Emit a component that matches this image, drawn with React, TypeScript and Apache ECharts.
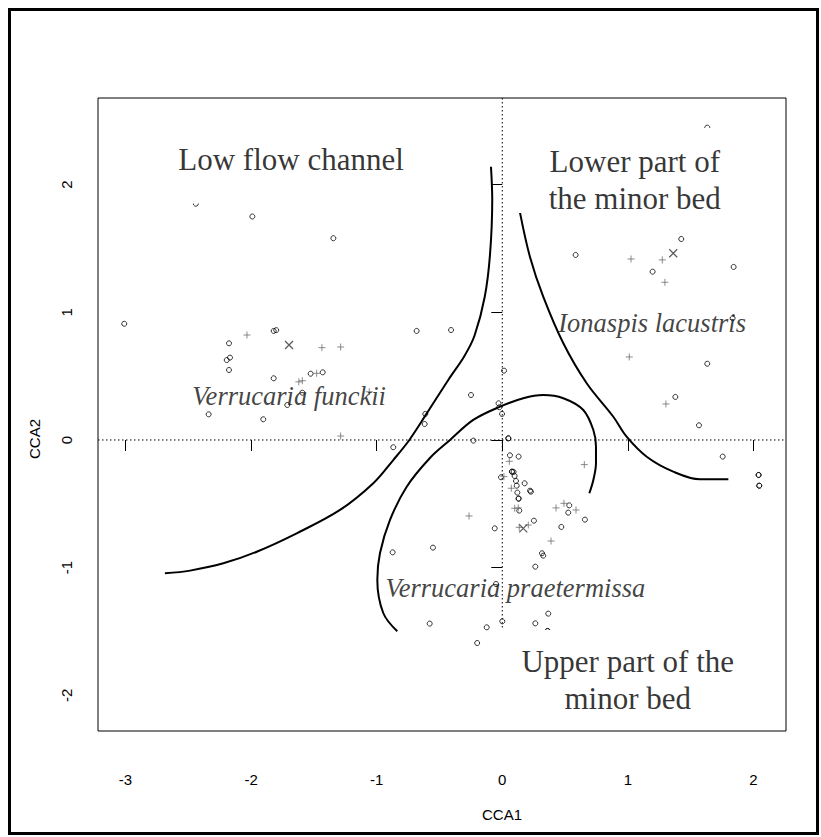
import React, { useEffect, useRef } from "react";
import * as echarts from "echarts";

// ---- axis ticks ----
const xTicks = [-3, -2, -1, 0, 1, 2];
const yTicks = [-2, -1, 0, 1, 2];

// ---- site scores (open circles) ----
const sites: number[][] = [
  [-2.44, 1.85], [-1.99, 1.75], [-1.345, 1.58], [-3.01, 0.91], [-2.176, 0.757],
  [-1.82, 0.854], [-1.8, 0.86], [-2.194, 0.626], [-2.168, 0.645], [-2.176, 0.548],
  [-1.82, 0.483], [-1.526, 0.519], [-1.43, 0.53], [-1.592, 0.37], [-1.712, 0.274],
  [-2.338, 0.201], [-1.903, 0.162], [-0.682, 0.854], [-0.408, 0.861], [0.014, 0.543],
  [-0.249, 0.352], [-0.03, 0.287], [-0.024, 0.256], [-0.002, 0.204], [-0.613, 0.204],
  [-0.618, 0.125], [-0.23, -0.005], [0.048, 0.013], [0.048, 0.013], [-0.868, -0.057],
  [-0.01, -0.292], [-0.06, -0.692], [-0.552, -0.843], [-0.873, -0.88], [-0.05, -1.128],
  [-0.578, -1.438], [-0.124, -1.467], [0.0, -1.42], [-0.2, -1.59], [0.061, -0.12],
  [0.13, -0.13], [0.077, -0.248], [0.077, -0.248], [0.09, -0.25], [0.098, -0.282],
  [0.109, -0.321], [0.115, -0.358], [0.178, -0.339], [0.12, -0.412], [0.13, -0.459],
  [0.13, -0.459], [0.221, -0.397], [0.228, -0.405], [0.135, -0.553], [0.533, -0.512],
  [0.525, -0.569], [0.658, -0.624], [0.252, -0.632], [0.47, -0.681], [0.316, -0.887],
  [0.326, -0.906], [0.263, -0.992], [0.366, -1.36], [0.263, -1.436], [0.361, -1.496],
  [0.361, -1.496], [1.566, 0.115], [1.755, -0.13], [2.041, -0.274], [2.041, -0.274],
  [2.046, -0.358], [2.046, -0.358], [1.632, 2.446], [1.425, 1.574], [0.584, 1.449],
  [1.197, 1.318], [1.842, 1.355], [1.834, 0.953], [1.632, 0.597], [1.378, 0.337],
];

// ---- species scores (grey crosses) ----
const species: number[][] = [
  [-2.033, 0.822], [-1.436, 0.723], [-1.287, 0.728], [-1.478, 0.522], [-1.592, 0.464],
  [-1.62, 0.455], [-1.287, 0.031], [-1.059, 0.378], [-0.265, -0.595], [0.056, -0.167],
  [0.013, -0.287], [0.072, -0.378], [0.099, -0.535], [0.127, -0.532], [0.428, -0.532],
  [0.491, -0.496], [0.587, -0.548], [0.653, -0.193], [0.135, -0.684], [0.207, -0.666],
  [0.388, -0.791], [1.025, 1.417], [1.274, 1.41], [1.295, 1.235], [1.011, 0.65],
  [1.303, 0.282],
];

// ---- group centroids (x) ----
const centroids: number[][] = [
  [-1.698, 0.744], [1.361, 1.462], [0.167, -0.692],
];

// ---- hand-drawn group boundaries ----
const boundaryLow: number[][] = [
  [-0.09, 2.14], [-0.08, 1.88], [-0.098, 1.45], [-0.14, 1.12], [-0.22, 0.82],
  [-0.3, 0.66], [-0.43, 0.47], [-0.6, 0.21], [-0.74, 0.0], [-0.868, -0.157],
  [-1.027, -0.339], [-1.292, -0.548], [-1.637, -0.731], [-1.955, -0.875],
  [-2.221, -0.966], [-2.486, -1.023], [-2.686, -1.044],
];
const boundaryLower: number[][] = [
  [0.141, 1.78], [0.22, 1.435], [0.326, 1.122], [0.486, 0.757], [0.672, 0.444],
  [0.884, 0.182], [0.99, 0.026], [1.15, -0.131], [1.361, -0.248], [1.574, -0.308],
  [1.8, -0.308],
];
const boundaryUpper: number[][] = [
  [-0.836, -1.498], [-0.947, -1.357], [-0.995, -1.096], [-0.974, -0.887],
  [-0.894, -0.626], [-0.761, -0.366], [-0.576, -0.141], [-0.416, 0.0],
  [-0.231, 0.157], [-0.018, 0.261], [0.167, 0.327], [0.326, 0.352], [0.486, 0.327],
  [0.645, 0.235], [0.725, 0.078], [0.746, -0.052], [0.746, -0.182], [0.725, -0.313],
  [0.693, -0.417],
];

// ---- annotations ----
const regionNames = ["Low flow channel", "Lower part of\nthe minor bed", "Upper part of the\nminor bed"];
const regionAt: number[][] = [[-1.682, 2.193], [1.055, 2.039], [0.999, -1.88]];
const speciesNames = ["Verrucaria funckii", "Ionaspis lacustris", "Verrucaria praetermissa"];
const speciesAt: number[][] = [[-1.697, 0.345], [1.193, 0.916], [0.104, -1.157]];

const X_MIN = -3.219, X_MAX = 2.259, Y_MIN = -2.279, Y_MAX = 2.678;

const serif = "'Liberation Serif', 'Times New Roman', serif";
const sans = "'Liberation Sans', Arial, Helvetica, sans-serif";

const frame = {
  id: "frame", type: "rect", silent: true, z: 100,
  shape: { x: 9.5, y: 9.5, width: 808, height: 824 },
  style: { fill: "none", stroke: "#000", lineWidth: 3 },
};

function buildOption() {
  const dotted = { color: "#000", width: 1, type: [1.5, 2.5] };
  return {
    animation: false,
    grid: {
      left: 98, top: 98, right: 35, bottom: 106,
      show: true, borderColor: "#000", borderWidth: 1, backgroundColor: "transparent",
    },
    xAxis: {
      type: "value", min: X_MIN, max: X_MAX,
      axisLine: { show: false }, splitLine: { show: false },
      axisTick: { show: true, length: 11, customValues: xTicks, lineStyle: { color: "#000", width: 1 } },
      axisLabel: { customValues: xTicks, margin: 41, fontSize: 15, color: "#000", fontFamily: sans },
      name: "CCA1", nameLocation: "middle", nameGap: 76,
      nameTextStyle: { fontSize: 15, color: "#000", fontFamily: sans, padding: [0, 0, 0, 120] },
    },
    yAxis: {
      type: "value", min: Y_MIN, max: Y_MAX,
      axisLine: { show: false }, splitLine: { show: false },
      axisTick: { show: true, length: 11, customValues: yTicks, lineStyle: { color: "#000", width: 1 } },
      axisLabel: { customValues: yTicks, rotate: 90, margin: 24, fontSize: 15, color: "#000", fontFamily: sans },
      name: "CCA2", nameLocation: "middle", nameGap: 56, nameRotate: 90,
      nameTextStyle: { fontSize: 15, color: "#000", fontFamily: sans, padding: [0, 49, 0, 0] },
    },
    graphic: { elements: [frame] },
    series: [
      {
        type: "scatter", data: sites, symbol: "circle", symbolSize: 5, silent: true,
        itemStyle: { color: "rgba(0,0,0,0)", borderColor: "#000", borderWidth: 1 },
        emphasis: { disabled: true }, z: 2,
      },
      {
        type: "scatter", data: species, symbol: "path://M5,0V10M0,5H10", symbolSize: 7, silent: true,
        itemStyle: { color: "none", borderColor: "#6e6e6e", borderWidth: 1 },
        emphasis: { disabled: true }, z: 2,
      },
      {
        type: "scatter", data: centroids, symbol: "path://M0,0L10,10M10,0L0,10", symbolSize: 8, silent: true,
        itemStyle: { color: "none", borderColor: "#333", borderWidth: 1.3 },
        emphasis: { disabled: true }, z: 2,
      },
      ...[boundaryLow, boundaryLower, boundaryUpper].map((d) => ({
        type: "line", data: d, symbol: "none", smooth: 0.35, silent: true,
        lineStyle: { color: "#000", width: 2 }, emphasis: { disabled: true }, z: 3,
      })),
      {
        type: "line", data: [[X_MIN, 0], [X_MAX, 0]], symbol: "none", silent: true,
        lineStyle: dotted, emphasis: { disabled: true }, z: 3,
      },
      {
        type: "line", data: [[0, Y_MAX], [0, -1.51]], symbol: "none", silent: true,
        lineStyle: dotted, emphasis: { disabled: true }, z: 3,
      },
      {
        type: "scatter", symbolSize: 1, silent: true, z: 10,
        itemStyle: { color: "rgba(0,0,0,0)" }, emphasis: { disabled: true },
        data: regionNames.map((n, i) => ({ name: n, value: regionAt[i] })),
        label: {
          show: true, position: "inside", formatter: "{b}", align: "center", verticalAlign: "middle",
          fontFamily: serif, fontSize: 31, lineHeight: 37, color: "#000", textBorderWidth: 0,
        },
      },
      {
        type: "scatter", symbolSize: 1, silent: true, z: 11,
        itemStyle: { color: "rgba(0,0,0,0)" }, emphasis: { disabled: true },
        data: speciesNames.map((n, i) => ({ name: n, value: speciesAt[i] })),
        label: {
          show: true, position: "inside", formatter: "{b}", align: "center", verticalAlign: "middle",
          fontFamily: serif, fontStyle: "italic", fontSize: 26.5, color: "#111", textBorderWidth: 0,
        },
      },
    ],
  };
}

// white legend-style boxes behind the region labels, sized in pixels around each label anchor
const boxExtent = [
  { l: 135, r: 135, t: 25, b: 43.5 },
  { l: 123, r: 123, t: 51.5, b: 33.5 },
  { l: 140, r: 140, t: 50, b: 47 },
];

export default function App() {
  const ref = useRef<HTMLDivElement>(null);
  useEffect(() => {
    if (!ref.current) return;
    const chart = echarts.init(ref.current, undefined, { renderer: "svg" });
    chart.setOption(buildOption() as any);
    const boxes = regionAt.map((p, i) => {
      const [cx, cy] = chart.convertToPixel({ gridIndex: 0 }, p) as number[];
      const e = boxExtent[i];
      return {
        id: "box" + i, type: "rect", silent: true, z: 5,
        shape: { x: cx - e.l, y: cy - e.t, width: e.l + e.r, height: e.t + e.b },
        style: { fill: "#fff", stroke: "none" },
      };
    });
    chart.setOption({ graphic: { elements: [frame, ...boxes] } } as any);
    return () => chart.dispose();
  }, []);
  return (
    <div
      ref={ref}
      style={{ position: "fixed", left: 0, top: 0, width: 821, height: 837, background: "#fff" }}
    />
  );
}
